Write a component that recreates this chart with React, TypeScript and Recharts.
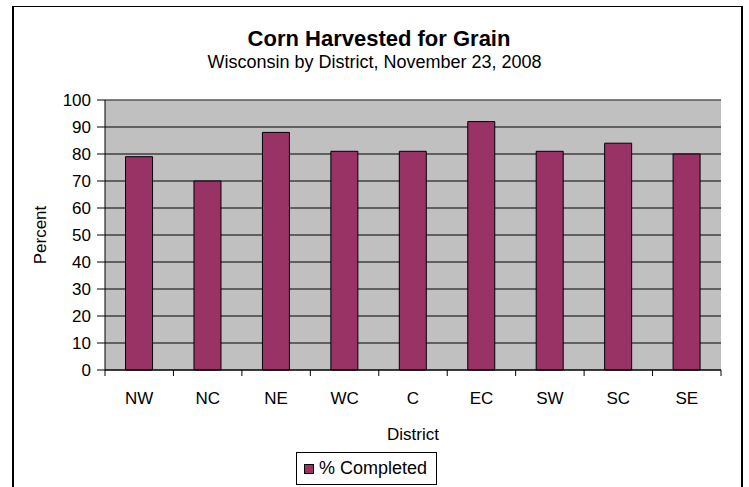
import React from 'react';
import { BarChart, Bar, XAxis, YAxis, CartesianGrid, Legend, ReferenceLine } from 'recharts';

const districts = ['NW', 'NC', 'NE', 'WC', 'C', 'EC', 'SW', 'SC', 'SE'];
const completed = [79, 70, 88, 81, 81, 92, 81, 84, 80];
const percentTicks = [0, 10, 20, 30, 40, 50, 60, 70, 80, 90, 100];

const data = districts.map((d, i) => ({ district: d, completed: completed[i] }));

const FONT = '"Liberation Sans", Arial, sans-serif';
const BAR_COLOR = '#993366';

// Excel puts the category ticks between the bars, not under them
const BoundaryTick = (props: any) => {
  const { x, y, payload, index, visibleTicksCount, width } = props;
  const half = typeof payload?.offset === 'number' && payload.offset > 0
    ? payload.offset
    : width / visibleTicksCount / 2;
  const last = index === visibleTicksCount - 1;
  return (
    <g>
      <line x1={x - half} x2={x - half} y1={y - 6} y2={y} stroke="#000" />
      {last && <line x1={x + half} x2={x + half} y1={y - 6} y2={y} stroke="#000" />}
      <text x={x} y={y} dy={27.5} textAnchor="middle" fontSize={17} fill="#000" fontFamily={FONT}>
        {payload.value}
      </text>
    </g>
  );
};

const LegendBox = () => (
  <div
    style={{
      width: 139,
      height: 31,
      border: '1px solid #000',
      background: '#fff',
      display: 'flex',
      alignItems: 'center',
      fontFamily: FONT,
      fontSize: 18,
      color: '#000',
      boxSizing: 'content-box',
    }}
  >
    <span
      style={{
        display: 'inline-block',
        width: 8,
        height: 8,
        background: BAR_COLOR,
        border: '1px solid #000',
        marginLeft: 7,
        marginRight: 5,
      }}
    />
    <span>% Completed</span>
  </div>
);

const App: React.FC = () => {
  return (
    <div style={{ position: 'absolute', left: 0, top: 0, width: 749, height: 487, background: '#fff', overflow: 'hidden' }}>
      <div
        style={{
          position: 'absolute',
          left: 12,
          top: 6,
          width: 727,
          height: 500,
          borderLeft: '2px solid #000',
          borderRight: '2px solid #000',
          borderTop: '1px solid #000',
        }}
      />
      <div
        style={{
          position: 'absolute',
          left: 0,
          width: 758,
          top: 26,
          textAlign: 'center',
          fontFamily: FONT,
          fontWeight: 'bold',
          fontSize: 22,
          lineHeight: '25px',
          color: '#000',
        }}
      >
        Corn Harvested for Grain
      </div>
      <div
        style={{
          position: 'absolute',
          left: 0,
          width: 749,
          top: 51,
          textAlign: 'center',
          fontFamily: FONT,
          fontSize: 18,
          lineHeight: '22px',
          color: '#000',
        }}
      >
        Wisconsin by District, November 23, 2008
      </div>
      <div style={{ position: 'absolute', left: 0, top: 0 }}>
        <BarChart
          width={749}
          height={487}
          data={data}
          margin={{ top: 100, right: 28, left: 0, bottom: 0 }}
          barCategoryGap="30%"
          style={{ fontFamily: FONT }}
        >
          <CartesianGrid vertical={false} stroke="#000" fill="#C0C0C0" fillOpacity={1} />
          <ReferenceLine y={100} stroke="#808080" />
          <XAxis
            dataKey="district"
            height={117}
            axisLine={{ stroke: '#000' }}
            tickLine={false}
            tickSize={6}
            tickMargin={0}
            interval={0}
            tick={<BoundaryTick />}
            label={{ value: 'District', position: 'insideBottom', offset: 47, fill: '#000', fontSize: 17 }}
          />
          <YAxis
            width={105}
            domain={[0, 100]}
            ticks={percentTicks}
            interval={0}
            axisLine={{ stroke: '#000' }}
            tickLine={{ stroke: '#000' }}
            tickSize={8}
            tickMargin={6}
            tick={{ fill: '#000', fontSize: 17 }}
            label={{ value: 'Percent', angle: -90, position: 'insideLeft', offset: 40, fill: '#000', fontSize: 17, textAnchor: 'middle' }}
          />
          <YAxis
            yAxisId="right"
            orientation="right"
            width={0}
            tick={false}
            tickLine={false}
            axisLine={{ stroke: '#808080' }}
          />
          <Legend
            layout="vertical"
            align="center"
            verticalAlign="middle"
            content={<LegendBox />}
            wrapperStyle={{ left: 296, top: 452, width: 141, height: 33 }}
          />
          <Bar
            dataKey="completed"
            name="% Completed"
            fill={BAR_COLOR}
            stroke="#000"
            strokeWidth={1}
            isAnimationActive={false}
          />
        </BarChart>
      </div>
    </div>
  );
};

export default App;
